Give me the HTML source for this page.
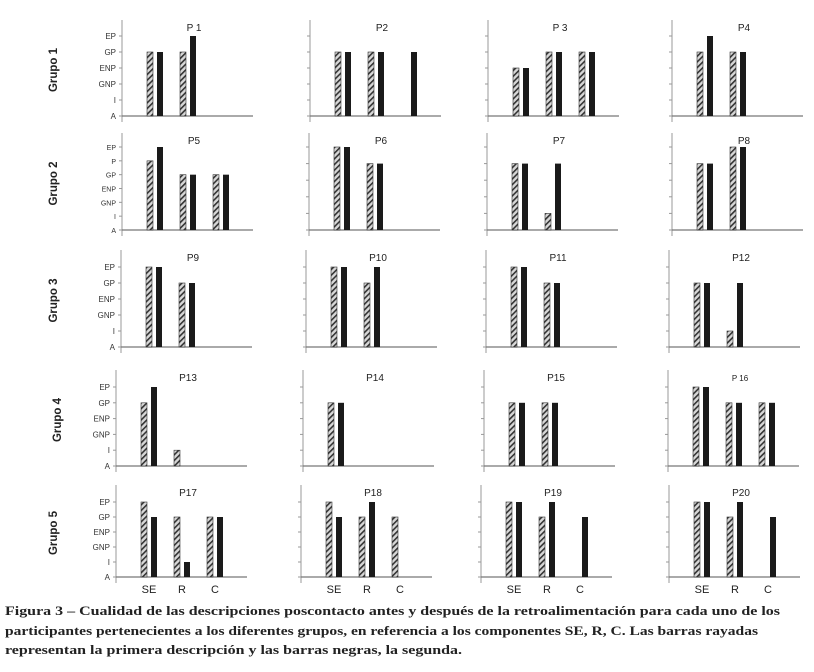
<!DOCTYPE html>
<html><head><meta charset="utf-8"><style>
html,body{margin:0;padding:0;background:#fff;width:814px;height:672px;overflow:hidden}
svg{display:block}
</style></head><body>
<svg id="chart" width="814" height="672" xmlns="http://www.w3.org/2000/svg">
<defs>
<pattern id="hatch" patternUnits="userSpaceOnUse" width="4" height="4" patternTransform="rotate(45)">
<rect width="4" height="4" fill="#d8d8d8"/><rect width="1.6" height="4" fill="#333"/>
</pattern>
</defs>
<g id="panels"></g>
<g font-family="'Liberation Serif', serif" font-weight="bold" font-size="13" fill="#222">
<text x="5" y="615" textLength="775" lengthAdjust="spacingAndGlyphs">Figura 3 – Cualidad de las descripciones poscontacto antes y después de la retroalimentación para cada uno de los</text>
<text x="5" y="635" textLength="753" lengthAdjust="spacingAndGlyphs">participantes pertenecientes a los diferentes grupos, en referencia a los componentes SE, R, C. Las barras rayadas</text>
<text x="5" y="654" textLength="457" lengthAdjust="spacingAndGlyphs">representan la primera descripción y las barras negras, la segunda.</text>
</g>
</svg>
<script>
const categories = ["SE","R","C"];
const levels6 = ["A","I","GNP","ENP","GP","EP"];
const levels7 = ["A","I","GNP","ENP","GP","P","EP"];
const groupNames = ["Grupo 1","Grupo 2","Grupo 3","Grupo 4","Grupo 5"];
const panelTitles = ["P 1","P2","P 3","P4","P5","P6","P7","P8","P9","P10","P11","P12","P13","P14","P15","P 16","P17","P18","P19","P20"];
// first description (hatched) per panel: [SE,R,C], null = no bar
const firstValues = [
 [4,4,null],[4,4,null],[3,4,4],[4,4,null],
 [5,4,4],[5,4,null],[4,1,null],[4,5,null],
 [5,4,null],[5,4,null],[5,4,null],[4,1,null],
 [4,1,null],[4,null,null],[4,4,null],[5,4,4],
 [5,4,4],[5,4,4],[5,4,null],[5,4,null]
];
// second description (black)
const secondValues = [
 [4,5,null],[4,4,4],[3,4,4],[5,4,null],
 [6,4,4],[5,4,null],[4,4,null],[4,5,null],
 [5,4,null],[5,5,null],[5,4,null],[4,4,null],
 [5,null,null],[4,null,null],[4,4,null],[5,4,4],
 [4,1,4],[4,5,null],[5,5,4],[5,5,4]
];

const NS="http://www.w3.org/2000/svg";
const root=document.getElementById('panels');
const rowGeom=[{top:20,base:116,span:80},{top:133,base:230,span:83},{top:250,base:347,span:80},{top:370,base:466,span:79},{top:485,base:577,span:75}];
const colX=[[122,310,488,672],[122,309,487,672],[121,306,486,669],[116,303,484,668],[116,301,481,669]];
function mk(tag,attrs,parent){const e=document.createElementNS(NS,tag);for(const k in attrs)e.setAttribute(k,attrs[k]);parent.appendChild(e);return e;}

groupNames.forEach((g,r)=>{
  const rg=rowGeom[r];
  const t=mk('text',{x:0,y:0,transform:`translate(${r==3?61:57},${(rg.top+rg.base)/2+2}) rotate(-90)`,'text-anchor':'middle','font-family':'Liberation Sans, sans-serif','font-weight':'bold','font-size':'11.5',fill:'#222'},root);
  t.textContent=g;
  
  
});

panelTitles.forEach((title,i)=>{
  const r=Math.floor(i/4), c=i%4;
  const rg=rowGeom[r], ax=colX[r][c];
  const levels = (i===4)?levels7:levels6;
  const n=levels.length-1;
  const y=v=>rg.base-v*rg.span/n;
  const xCat=k=>ax+25+k*33;
  const g=mk('g',{},root);
  
  
  mk('line',{x1:ax,y1:rg.top,x2:ax,y2:rg.base+6,stroke:'#999','stroke-width':1},g);
  mk('line',{x1:ax,y1:rg.base,x2:ax+131,y2:rg.base,stroke:'#777','stroke-width':1.3},g);
  for(let v=0;v<=n;v++){
    mk('line',{x1:ax-3,y1:y(v),x2:ax,y2:y(v),stroke:'#999','stroke-width':1},g);
    if(c===0){
      const lt=mk('text',{x:ax-6,y:y(v)+3,'text-anchor':'end','font-family':'Liberation Sans, sans-serif','font-size':(i===4?7:8),fill:'#333'},g);
      lt.textContent=levels[v];
      
      
    }
  }
  const tt=mk('text',{x:ax+72,y:rg.top+11,'text-anchor':'middle','font-family':'Liberation Sans, sans-serif','font-size':(title==='P 16'?8:10),fill:'#222'},g);
  tt.textContent=title;
  
  
  categories.forEach((cat,k)=>{
    const a=firstValues[i][k], b=secondValues[i][k];
    if(a!==null){
      const bar=mk('rect',{x:xCat(k),y:y(a),width:6,height:rg.base-y(a),fill:'url(#hatch)',stroke:'#333','stroke-width':0.6},g);
      
      
    }
    if(b!==null){
      const bar=mk('rect',{x:xCat(k)+10,y:y(b),width:6,height:rg.base-y(b),fill:'#1a1a1a'},g);
      
      
    }
    if(r===4){
      const xl=mk('text',{x:xCat(k)+8,y:rg.base+16,'text-anchor':'middle','font-family':'Liberation Sans, sans-serif','font-size':11,fill:'#222'},g);
      xl.textContent=cat;
      
      
    }
  });
});
</script>
</body></html>
